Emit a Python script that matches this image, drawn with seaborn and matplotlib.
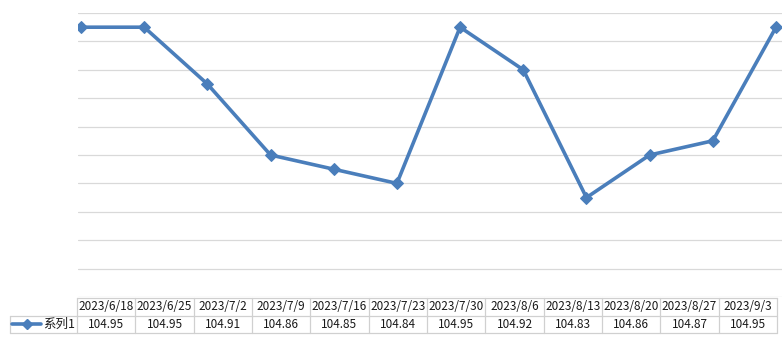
import numpy as np
import pandas as pd
import seaborn as sns
import matplotlib.pyplot as plt
from matplotlib.lines import Line2D

# chart data
dates = ['2023/6/18', '2023/6/25', '2023/7/2', '2023/7/9', '2023/7/16', '2023/7/23',
         '2023/7/30', '2023/8/6', '2023/8/13', '2023/8/20', '2023/8/27', '2023/9/3']
values = [104.95, 104.95, 104.91, 104.86, 104.85, 104.84,
          104.95, 104.92, 104.83, 104.86, 104.87, 104.95]
series_name = '系列1'

sns.set_style('white')
plt.rcParams['font.family'] = ['Noto Sans CJK SC', 'DejaVu Sans']

W, H = 782, 352
line_color = '#4A7EBB'
grid_color = '#D9D9D9'
border_color = '#D0D0D0'

df = pd.DataFrame({'idx': np.arange(len(dates)), 'value': values})

fig = plt.figure(figsize=(W / 100, H / 100), dpi=100)

## plot area
ax = fig.add_axes([78 / W, (H - 297) / H, (W - 78) / W, (297 - 13) / H])
sns.lineplot(data=df, x='idx', y='value', ax=ax, color=line_color, linewidth=2.6,
             marker='D', markersize=6, markeredgecolor=line_color, zorder=3)
ax.set_ylim(104.76, 104.96)
ax.set_xlim(-3 / 63.2, 11 + 6 / 63.2)
ax.set_yticks(np.arange(104.76, 104.961, 0.02))
ax.yaxis.grid(True, color=grid_color, linewidth=0.9)
ax.tick_params(left=False, bottom=False, labelleft=False, labelbottom=False)
ax.set_xlabel('')
ax.set_ylabel('')
for s in ax.spines.values():
    s.set_visible(False)

## data table below
n = len(dates)
tax = fig.add_axes([77 / W, (H - 333) / H, 700 / W, 35 / H])
tax.set_xlim(0, n)
tax.set_ylim(0, 2)
tax.axis('off')
col_w = 700 / n
legend_left = -(77 - 10) / col_w

for y in [0, 1, 2]:
    x0 = legend_left if y < 2 else 0
    tax.plot([x0, n], [y, y], color=border_color, lw=0.9, clip_on=False)
for x in range(n + 1):
    tax.plot([x, x], [0, 2], color=border_color, lw=0.9, clip_on=False)
tax.plot([legend_left, legend_left], [0, 1], color=border_color, lw=0.9, clip_on=False)

for i, (d, v) in enumerate(zip(dates, values)):
    tax.text(i + 0.5, 1.5, d, ha='center', va='center', fontsize=8.5, color='#1a1a1a')
    tax.text(i + 0.5, 0.5, f'{v:.2f}', ha='center', va='center', fontsize=8.5, color='#1a1a1a')

# legend key inside the row-label cell
lx0 = legend_left + 2 / col_w
lx1 = legend_left + 31 / col_w
tax.add_line(Line2D([lx0, lx1], [0.5, 0.5], color=line_color, lw=2.6, clip_on=False))
tax.add_line(Line2D([(lx0 + lx1) / 2], [0.5], color=line_color, marker='D',
                    markersize=5, clip_on=False))
tax.text(legend_left + 33 / col_w, 0.5, series_name, ha='left', va='center',
         fontsize=9, color='#1a1a1a')

fig.savefig('out.png', dpi=100)
